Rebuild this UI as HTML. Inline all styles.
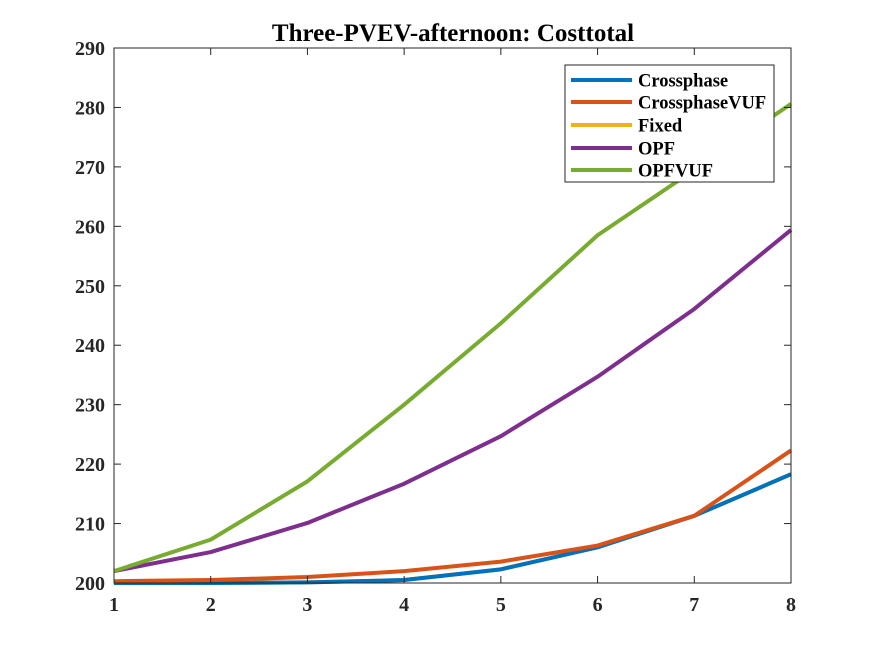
<!DOCTYPE html>
<html><head><meta charset="utf-8"><style>
body{margin:0;background:#fff;}
svg{display:block;font-family:"Liberation Serif",serif;font-weight:bold;}
</style></head><body>
<svg id="chart" width="875" height="656"></svg>
<script>
const xCats=[1,2,3,4,5,6,7,8];
const yTicks=[200,210,220,230,240,250,260,270,280,290];
const seriesNames=["Crossphase","CrossphaseVUF","Fixed","OPF","OPFVUF"];
const seriesColors=["#0072BD","#D95319","#EDB120","#7E2F8E","#77AC30"];
const crossphase=[200.0,200.0,200.1,200.5,202.3,206.0,211.3,218.3];
const crossphaseVUF=[200.3,200.5,201.0,202.0,203.6,206.3,211.3,222.3];
const fixed=[200.0,200.0,200.1,200.5,202.3,206.0,211.3,218.3];
const opf=[202.0,205.2,210.1,216.7,224.7,234.7,246.1,259.4];
const opfvuf=[202.0,207.3,217.1,230.0,243.7,258.5,269.5,280.6];
const seriesData=[crossphase,crossphaseVUF,fixed,opf,opfvuf];
const drawOrder=[2,0,1,3,4];

const NS="http://www.w3.org/2000/svg";
const svg=document.getElementById('chart');
const L=114,R=791,T=48,B=583;
const xS=v=>L+(v-1)/(8-1)*(R-L);
const yS=v=>B-(v-200)/(290-200)*(B-T);
function mk(tag,attrs,parent){const e=document.createElementNS(NS,tag);for(const k in attrs)e.setAttribute(k,attrs[k]);(parent||svg).appendChild(e);return e;}

const title=mk('text',{x:453,y:41,'text-anchor':'middle','font-size':25});
title.textContent="Three-PVEV-afternoon: Costtotal";



const plot=mk('rect',{x:L,y:T,width:R-L,height:B-T,fill:'#fff',stroke:'none'});



const lines=mk('g',{});


drawOrder.forEach(i=>{
  const pts=seriesData[i].map((v,j)=>xS(xCats[j])+','+yS(v)).join(' ');
  const p=mk('polyline',{points:pts,fill:'none',stroke:seriesColors[i],'stroke-width':4,'stroke-linejoin':'round'},lines);
  
  
});

const axes=mk('g',{stroke:'#262626','stroke-width':1,fill:'none'});


mk('rect',{x:L,y:T,width:R-L,height:B-T},axes);
xCats.forEach(v=>{
  const x=xS(v);
  mk('line',{x1:x,y1:B,x2:x,y2:B-7},axes);
  mk('line',{x1:x,y1:T,x2:x,y2:T+7},axes);
  const t=mk('text',{x:x,y:B+28,'text-anchor':'middle','font-size':20,fill:'#262626'});
  t.textContent=v;
  
  
});
yTicks.forEach(v=>{
  const y=yS(v);
  mk('line',{x1:L,y1:y,x2:L+7,y2:y},axes);
  mk('line',{x1:R,y1:y,x2:R-7,y2:y},axes);
  const t=mk('text',{x:105,y:y+7,'text-anchor':'end','font-size':20,fill:'#262626'});
  t.textContent=v;
  
  
});

const lg=mk('g',{});


mk('rect',{x:565,y:65,width:209,height:117,fill:'#fff',stroke:'#262626','stroke-width':1},lg);
const ly=[80,102,125,148,170];
seriesNames.forEach((n,i)=>{
  const e=mk('g',{},lg);
  
  
  mk('line',{x1:571,y1:ly[i],x2:632,y2:ly[i],stroke:seriesColors[i],'stroke-width':4},e);
  const t=mk('text',{x:638,y:ly[i]+6.5,'font-size':18.5,fill:'#000'},e);
  t.textContent=n;
});
</script>
</body></html>
